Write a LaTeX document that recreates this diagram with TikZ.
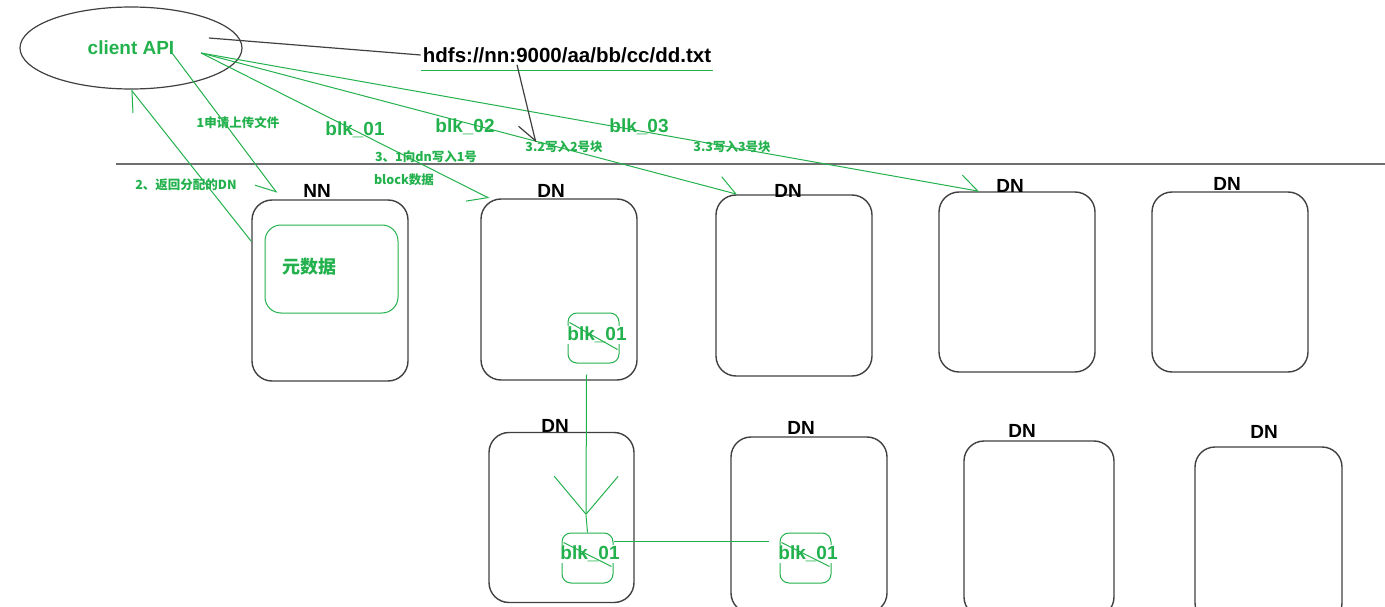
\documentclass[tikz,border=0pt]{standalone}
\usepackage{fontspec}
\setmainfont{Liberation Sans}
\newfontfamily\cjk{Noto Sans CJK SC}
\usetikzlibrary{shapes.geometric,arrows.meta}
\definecolor{paintgreen}{RGB}{34,177,76}
\definecolor{boxgray}{RGB}{64,64,64}
\definecolor{sepgray}{RGB}{110,110,110}

\begin{document}
\begin{tikzpicture}[x=1pt,y=-1pt,
	server/.style={draw=boxgray,line width=1.4pt,rounded corners=20pt,minimum width=156pt,minimum height=181pt},
	srvname/.style={font=\bfseries\fontsize{19}{19}\selectfont},
	blkbox/.style={draw=paintgreen,line width=1pt,rounded corners=9pt,minimum width=51pt,minimum height=50pt},
	blkname/.style={fill=white,inner sep=1pt,text=paintgreen,font=\bfseries\fontsize{19}{19}\selectfont},
	big/.style={text=paintgreen,font=\bfseries\fontsize{19}{19}\selectfont},
	note/.style={text=paintgreen,font=\cjk\bfseries\fontsize{12.5}{12.5}\selectfont},
	flow/.style={paintgreen,line width=1pt},
	barb/.style={-{Straight Barb[harpoon,length=18pt,width=26pt]}},
	barbr/.style={-{Straight Barb[harpoon,swap,length=18pt,width=26pt]}}]
	\useasboundingbox (0,0) rectangle (1385,607);
	\clip (0,0) rectangle (1385,607);

	\node[ellipse,draw=boxgray,line width=1.2pt,minimum width=222pt,minimum height=82pt,big] at (131,48)(client){client API};
	\node[font=\bfseries\fontsize{20.5}{20.5}\selectfont,inner sep=2pt] at (567,55)(hdfs){hdfs://nn:9000/aa/bb/cc/dd.txt};
	\draw[flow] ([yshift=-6pt]hdfs.south west) -- ([yshift=-6pt]hdfs.south east);
	\draw[sepgray,line width=2pt] (116,164) -- (1385,164);

	\node[server] at (330,290.5)(nn){};
	\node[server] at (559,289.5)(dn1){};
	\node[server] at (794,285.5)(dn2){};
	\node[server,minimum height=180pt] at (1017,282)(dn3){};
	\node[server,minimum height=180pt] at (1230,282)(dn4){};
	\node[server,minimum width=145pt,minimum height=170pt] at (561.5,517.5)(dn5){};
	\node[server,minimum height=176pt] at (809,525)(dn6){};
	\node[server,minimum width=150pt,minimum height=176pt] at (1039,529)(dn7){};
	\node[server,minimum width=147pt,minimum height=176pt] at (1268.5,535)(dn8){};

	\node[srvname] at (317,191)(nnlbl){NN};
	\node[srvname] at (551,191)(dn1lbl){DN};
	\node[srvname] at (788,191)(dn2lbl){DN};
	\node[srvname] at (1010,186)(dn3lbl){DN};
	\node[srvname] at (1227,184)(dn4lbl){DN};
	\node[srvname] at (555,426)(dn5lbl){DN};
	\node[srvname] at (801,428)(dn6lbl){DN};
	\node[srvname] at (1022,431)(dn7lbl){DN};
	\node[srvname] at (1264,432)(dn8lbl){DN};

	\node[draw=paintgreen,line width=1pt,rounded corners=16pt,minimum width=133pt,minimum height=88pt] at (331.5,269)(meta){};
	\node[big,font=\cjk\bfseries\fontsize{18}{18}\selectfont] at (309,267)(metalbl){元数据};

	\node[blkbox] at (593.5,338)(blk1){};
	\node[blkname] at (597,335)(blk1lbl){blk\_01};
	\draw[flow] ([shift={(2,10)}]blk1.north west) -- ++(48,27);
	\node[blkbox] at (587.5,558)(blk5){};
	\node[blkname] at (590,554)(blk5lbl){blk\_01};
	\draw[flow] ([shift={(2,10)}]blk5.north west) -- ++(48,24);
	\node[blkbox] at (805.5,558)(blk6){};
	\node[blkname] at (808,554)(blk6lbl){blk\_01};
	\draw[flow] ([shift={(2,10)}]blk6.north west) -- ++(48,24);

	\node[note] at (238,123)(req){1申请上传文件};
	\node[note] at (186,185)(ret){2、返回分配的DN};
	\node[big] at (355,130)(b1){blk\_01};
	\node[note] at (426,157)(w1){3、1向dn写入1号};
	\node[note] at (404,180)(w1b){block数据};
	\node[big] at (465,127)(b2){blk\_02};
	\node[note] at (564,147)(w2){3.2写入2号块};
	\node[big] at (639,127)(b3){blk\_03};
	\node[note] at (732,147)(w3){3.3写入3号块};

	\coordinate (reqfrom) at (172,53);
	\coordinate (blkfrom) at (201,53);
	\coordinate (reqto) at (277,193);
	\coordinate (pathfrom) at (209,38);
	\coordinate (vtip) at (586,515);

	\path[flow,barbr] (reqfrom)edge(reqto) (blkfrom)edge([xshift=9pt]dn1.north west);
	\path[flow,barb] (nn.148)edge(client.south) (blkfrom)edge([xshift=22pt]dn2.north west) (blkfrom)edge([xshift=41pt]dn3.north west);
	\path[boxgray,line width=1.2pt] (pathfrom)edge(hdfs.west);
	\path[boxgray,line width=1.2pt,barbr] ([xshift=-50pt]hdfs.south)edge([xshift=14pt,yshift=-5pt]w2.north west);
	\path[flow] ([xshift=-7pt,yshift=-11pt]blk1.south)edge[-{Straight Barb[length=38pt,width=64pt]}](vtip) (vtip)edge(blk5.north);
	\path[flow] ([yshift=-9pt]blk5.north east)edge([xshift=-11pt,yshift=-9pt]blk6.north west);
\end{tikzpicture}
\end{document}
